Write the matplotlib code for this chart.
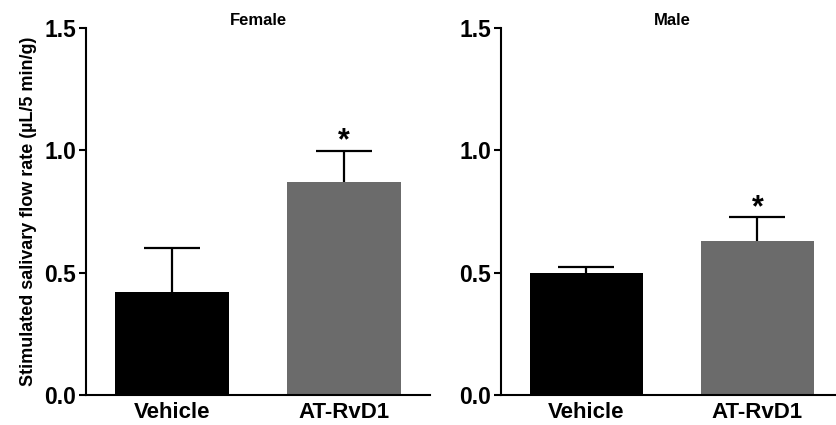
import matplotlib
matplotlib.use('Agg')
import matplotlib.pyplot as plt

plt.rcParams.update({
    'font.family': ['Liberation Sans', 'DejaVu Sans'],
    'font.weight': 'bold',
    'axes.linewidth': 1.5,
})

groups = ['Vehicle', 'AT-RvD1']
colors = ['#000000', '#6b6b6b']

female_mean = [0.42, 0.872]
female_sem = [0.18, 0.126]
male_mean = [0.497, 0.628]
male_sem = [0.027, 0.098]
stars = ['', '*']

W, H = 837, 425
fig = plt.figure(figsize=(W / 100, H / 100), dpi=100)

panels = [
    ('Female', female_mean, female_sem, [86, 344]),
    ('Male', male_mean, male_sem, [501, 342]),
]

for title, means, sems, (x0, w) in panels:
    ax = fig.add_axes([x0 / W, 1 - 395 / H, w / W, 367 / H])
    x = list(range(len(groups)))
    ax.bar(x, means, width=0.66, color=colors, edgecolor='none', zorder=2)
    eb = ax.errorbar(x, means, yerr=[[0] * len(means), sems], fmt='none',
                     ecolor='black', elinewidth=1.6, capsize=20, capthick=1.6, zorder=3)
    # only the upper whisker is drawn
    eb[1][0].set_visible(False)
    for xi, m, s, st in zip(x, means, sems, stars):
        if st:
            ax.annotate(st, (xi, m + s), xytext=(0, -4), textcoords='offset points',
                        ha='center', va='bottom', fontsize=22, fontweight='bold')
    ax.set_xlim(-0.5, 1.5)
    ax.set_ylim(0, 1.5)
    ax.set_yticks([0.0, 0.5, 1.0, 1.5])
    ax.set_yticklabels(['0.0', '0.5', '1.0', '1.5'])
    ax.set_xticks(x)
    ax.set_xticklabels(groups)
    ax.tick_params(axis='y', length=5, width=1.5, labelsize=16.5, pad=2)
    ax.tick_params(axis='x', length=0, labelsize=16, pad=5)
    for lbl in ax.get_xticklabels() + ax.get_yticklabels():
        lbl.set_fontweight('bold')
    ax.spines['top'].set_visible(False)
    ax.spines['right'].set_visible(False)
    ax.set_title(title, fontsize=12, fontweight='bold', pad=0)
    if title == 'Female':
        ax.set_ylabel('Stimulated salivary flow rate (\u00b5L/5 min/g)',
                      fontsize=13, fontweight='bold', labelpad=5)

fig.savefig('out.png', dpi=100)
